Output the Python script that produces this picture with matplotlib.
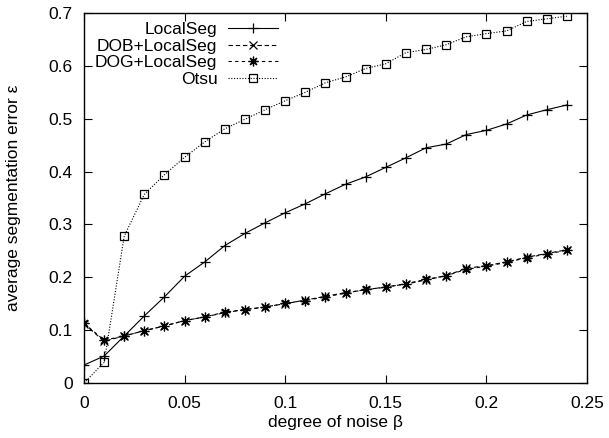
import numpy as np
import matplotlib
matplotlib.use("Agg")
import matplotlib.pyplot as plt

plt.rcParams['font.family'] = ['Liberation Sans', 'DejaVu Sans']

# grado de ruido beta
ruido = [0.00, 0.01, 0.02, 0.03, 0.04, 0.05, 0.06, 0.07, 0.08, 0.09, 0.10, 0.11, 0.12,
         0.13, 0.14, 0.15, 0.16, 0.17, 0.18, 0.19, 0.20, 0.21, 0.22, 0.23, 0.24]

localseg = [0.034, 0.051, 0.089, 0.127, 0.163, 0.202, 0.229, 0.260, 0.283, 0.303, 0.322, 0.339, 0.358,
            0.376, 0.390, 0.408, 0.426, 0.445, 0.452, 0.470, 0.478, 0.490, 0.507, 0.517, 0.526]

dob_localseg = [0.112, 0.079, 0.089, 0.099, 0.108, 0.118, 0.125, 0.133, 0.139, 0.144, 0.150, 0.157, 0.164,
                0.171, 0.176, 0.182, 0.187, 0.195, 0.203, 0.217, 0.222, 0.229, 0.238, 0.245, 0.252]

dog_localseg = [0.113, 0.081, 0.089, 0.099, 0.108, 0.118, 0.125, 0.134, 0.139, 0.143, 0.151, 0.156, 0.163,
                0.170, 0.177, 0.181, 0.188, 0.196, 0.203, 0.215, 0.221, 0.228, 0.237, 0.244, 0.251]

otsu = [0.000, 0.039, 0.278, 0.357, 0.394, 0.427, 0.456, 0.481, 0.499, 0.517, 0.534, 0.550, 0.568,
        0.579, 0.595, 0.604, 0.625, 0.631, 0.640, 0.655, 0.661, 0.666, 0.684, 0.689, 0.694]

fig = plt.figure(figsize=(6.09, 4.38), dpi=100)
ax = fig.add_axes([84/609, 1-383/438, 503/609, 370/438])

lw = 0.8
ax.plot(ruido, localseg, color="black", lw=lw, ls="-", marker="+", ms=7, mew=0.9, label="LocalSeg")
ax.plot(ruido, dob_localseg, color="black", lw=lw, ls=(0, (4, 2.5)), marker="x", ms=6, mew=0.9,
        label="DOB+LocalSeg")
ax.plot(ruido, dog_localseg, color="black", lw=lw, ls=(0, (3, 3)), marker=(8, 2, 0), ms=7, mew=0.9,
        label="DOG+LocalSeg")
ax.plot(ruido, otsu, color="black", lw=lw, ls=(0, (1, 1.5)), marker="s", ms=6, mew=0.9,
        mfc="none", label="Otsu")

ax.set_xlim(0, 0.25)
ax.set_ylim(0, 0.7)
ax.set_xticks([0, 0.05, 0.1, 0.15, 0.2, 0.25])
ax.set_xticklabels(["0", "0.05", "0.1", "0.15", "0.2", "0.25"])
ax.set_yticks([0, 0.1, 0.2, 0.3, 0.4, 0.5, 0.6, 0.7])
ax.set_yticklabels(["0", "0.1", "0.2", "0.3", "0.4", "0.5", "0.6", "0.7"])
ax.tick_params(direction="in", length=6, width=0.8, top=True, right=True, labelsize=12.5)
ax.tick_params(axis="x", pad=9)
ax.tick_params(axis="y", pad=8)
for s in ax.spines.values():
    s.set_linewidth(1.0)

ax.set_xlabel("degree of noise β", fontsize=12.5, labelpad=3)
ax.set_ylabel("average segmentation error ε", fontsize=12.5, labelpad=20)

ax.legend(loc="upper right", bbox_to_anchor=(0.386, 0.975), frameon=False, markerfirst=False,
          fontsize=12.5, handlelength=2.9, labelspacing=0.08, borderpad=0, borderaxespad=0,
          handletextpad=0.6)

plt.savefig("out.png", dpi=100)
